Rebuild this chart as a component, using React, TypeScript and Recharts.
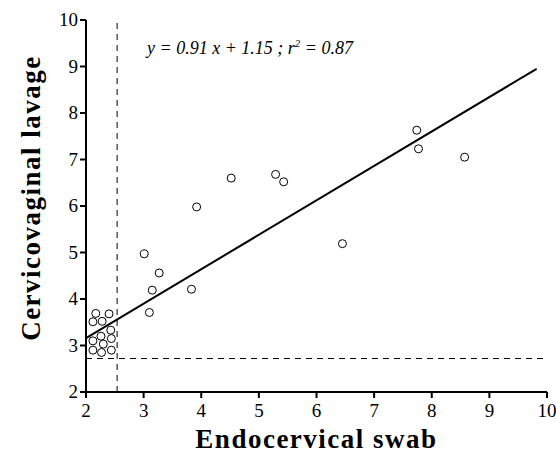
import React from 'react';
import {
  ScatterChart,
  Scatter,
  XAxis,
  YAxis,
  ReferenceLine,
  Label,
} from 'recharts';

// endocervical swab (x) vs cervicovaginal lavage (y)
const swab = [
  2.17, 2.4, 2.12, 2.28, 2.43, 2.26, 2.12, 2.44, 2.3, 2.12, 2.27, 2.44,
  3.01, 3.27, 3.15, 3.83, 3.1, 3.92, 4.52, 5.29, 5.43, 6.45, 7.74, 7.77, 8.57,
];
const lavage = [
  3.69, 3.68, 3.51, 3.52, 3.33, 3.2, 3.1, 3.15, 3.03, 2.9, 2.85, 2.9,
  4.97, 4.56, 4.19, 4.21, 3.71, 5.98, 6.6, 6.68, 6.52, 5.19, 7.63, 7.23, 7.05,
];
const fitX = [2, 9.82];
const fitY = [3.16, 8.95];
const cutX = 2.54;
const cutY = 2.72;
const ticks = [2, 3, 4, 5, 6, 7, 8, 9, 10];

const points = swab.map((x, i) => ({ x, y: lavage[i] }));

const font = '"Liberation Serif", "DejaVu Serif", serif';

const OpenDot = (props: any) => (
  <circle cx={props.cx} cy={props.cy} r={4} fill="#fff" stroke="#000" strokeWidth={1} />
);

const XTick = (props: any) => (
  <text x={props.x} y={props.y + 17} textAnchor="middle" fill="#000" fontSize={19} fontFamily={font}>
    {props.payload.value}
  </text>
);

const YTick = (props: any) => (
  <text x={props.x} y={props.y + 6} textAnchor="end" fill="#000" fontSize={19} fontFamily={font}>
    {props.payload.value}
  </text>
);

export default function App() {
  return (
    <div style={{ position: 'absolute', left: 0, top: 0, width: 556, height: 454, background: '#fff' }}>
      <ScatterChart width={556} height={454} margin={{ top: 20, right: 9, left: 0, bottom: 0 }}>
        <XAxis
          type="number"
          dataKey="x"
          domain={[2, 10]}
          ticks={ticks}
          interval={0}
          height={62}
          axisLine={{ stroke: '#000', strokeWidth: 2 }}
          tickLine={{ stroke: '#000', strokeWidth: 2 }}
          tickSize={6}
          tick={<XTick />}
        >
          <Label
            value="Endocervical swab"
            position="insideBottom"
            offset={6}
            style={{ fill: '#000', fontSize: 27, letterSpacing: 1.5, fontWeight: 'bold', fontFamily: font }}
          />
        </XAxis>
        <YAxis
          type="number"
          dataKey="y"
          domain={[2, 10]}
          ticks={ticks}
          interval={0}
          width={86}
          axisLine={{ stroke: '#000', strokeWidth: 2 }}
          tickLine={{ stroke: '#000', strokeWidth: 2 }}
          tickSize={6}
          tick={<YTick />}
        >
          <Label
            value="Cervicovaginal lavage"
            angle={-90}
            position="insideLeft"
            offset={30}
            dy={-8}
            style={{ textAnchor: 'middle', fill: '#000', fontSize: 27, letterSpacing: 1.5, fontWeight: 'bold', fontFamily: font }}
          />
        </YAxis>
        <ReferenceLine x={cutX} stroke="#000" strokeWidth={1} strokeDasharray="6 5" />
        <ReferenceLine y={cutY} stroke="#000" strokeWidth={1} strokeDasharray="6 5" />
        <ReferenceLine
          segment={[
            { x: fitX[0], y: fitY[0] },
            { x: fitX[1], y: fitY[1] },
          ]}
          stroke="#000"
          strokeWidth={2}
        />
        <Scatter data={points} shape={OpenDot} isAnimationActive={false} />
      </ScatterChart>
      <div
        style={{
          position: 'absolute',
          left: 147,
          top: 33,
          fontFamily: font,
          fontStyle: 'italic',
          fontSize: 18,
          lineHeight: '20px',
          whiteSpace: 'nowrap',
        }}
      >
        y = 0.91 x + 1.15 ; r<sup style={{ fontSize: 11 }}>2</sup> = 0.87
      </div>
    </div>
  );
}
